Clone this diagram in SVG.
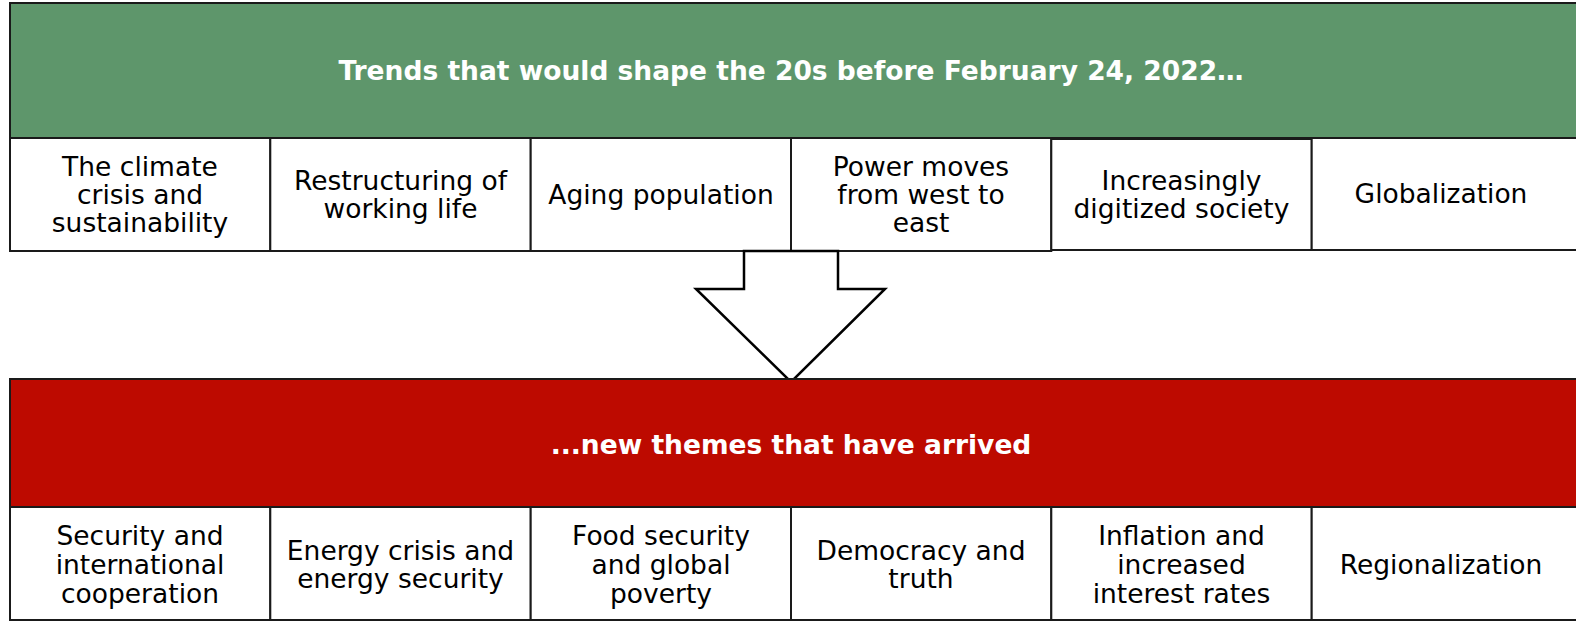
<svg xmlns="http://www.w3.org/2000/svg" width="1576" height="625" viewBox="0 0 1576 625">
<style>
.hdr-green{fill:#5e966b;stroke:#1a1a1a;stroke-width:2}
.hdr-red{fill:#bd0a00;stroke:#1a1a1a;stroke-width:2}
.cell{fill:#ffffff;stroke:#1a1a1a;stroke-width:2}
.t{font-family:"DejaVu Sans","Liberation Sans",sans-serif;font-size:26.5px;fill:#000000;text-anchor:middle;dominant-baseline:central}
.h{font-family:"DejaVu Sans","Liberation Sans",sans-serif;font-size:26.5px;font-weight:bold;fill:#ffffff;text-anchor:middle;dominant-baseline:central}
.arrow{fill:#ffffff;stroke:#000000;stroke-width:2.5;stroke-linejoin:miter}
</style>
<rect width="1576" height="625" fill="#ffffff"/>

<g id="header-top">
<rect class="hdr-green" x="10" y="3" width="1575" height="135"/>
<text class="h" x="791" y="70">Trends that would shape the 20s before February 24, 2022…</text>
</g>

<g id="trend-1">
<rect class="cell" x="10" y="138" width="260.3" height="113"/>
<text class="t" x="140" y="166">The climate</text>
<text class="t" x="140" y="194">crisis and</text>
<text class="t" x="140" y="222">sustainability</text>
</g>
<g id="trend-2">
<rect class="cell" x="270.3" y="138" width="260.4" height="113"/>
<text class="t" x="400.5" y="180">Restructuring of</text>
<text class="t" x="400.5" y="208">working life</text>
</g>
<g id="trend-3">
<rect class="cell" x="530.7" y="138" width="260.3" height="113"/>
<text class="t" x="661" y="194">Aging population</text>
</g>
<g id="trend-4">
<rect class="cell" x="791" y="138" width="260.3" height="113"/>
<text class="t" x="921" y="166">Power moves</text>
<text class="t" x="921" y="194">from west to</text>
<text class="t" x="921" y="222">east</text>
</g>
<g id="trend-5">
<rect class="cell" x="1051.3" y="139" width="260.4" height="111"/>
<text class="t" x="1181.5" y="180">Increasingly</text>
<text class="t" x="1181.5" y="208">digitized society</text>
</g>
<g id="trend-6">
<rect class="cell" x="1311.7" y="138" width="275" height="112"/>
<text class="t" x="1441" y="193">Globalization</text>
</g>

<g id="connectors">
<polygon class="arrow" points="744,251 838,251 838,289 885,289 791,382 696,289 744,289"/>
</g>

<g id="header-bottom">
<rect class="hdr-red" x="10" y="379" width="1575" height="128"/>
<text class="h" x="791" y="444">...new themes that have arrived</text>
</g>

<g id="theme-1">
<rect class="cell" x="10" y="507" width="260.3" height="113"/>
<text class="t" x="140" y="535">Security and</text>
<text class="t" x="140" y="564">international</text>
<text class="t" x="140" y="593">cooperation</text>
</g>
<g id="theme-2">
<rect class="cell" x="270.3" y="507" width="260.4" height="113"/>
<text class="t" x="400.5" y="550">Energy crisis and</text>
<text class="t" x="400.5" y="578">energy security</text>
</g>
<g id="theme-3">
<rect class="cell" x="530.7" y="507" width="260.3" height="113"/>
<text class="t" x="661" y="535">Food security</text>
<text class="t" x="661" y="564">and global</text>
<text class="t" x="661" y="593">poverty</text>
</g>
<g id="theme-4">
<rect class="cell" x="791" y="507" width="260.3" height="113"/>
<text class="t" x="921" y="550">Democracy and</text>
<text class="t" x="921" y="578">truth</text>
</g>
<g id="theme-5">
<rect class="cell" x="1051.3" y="507" width="260.4" height="113"/>
<text class="t" x="1181.5" y="535">Inflation and</text>
<text class="t" x="1181.5" y="564">increased</text>
<text class="t" x="1181.5" y="593">interest rates</text>
</g>
<g id="theme-6">
<rect class="cell" x="1311.7" y="507" width="275" height="113"/>
<text class="t" x="1441" y="564">Regionalization</text>
</g>
</svg>
